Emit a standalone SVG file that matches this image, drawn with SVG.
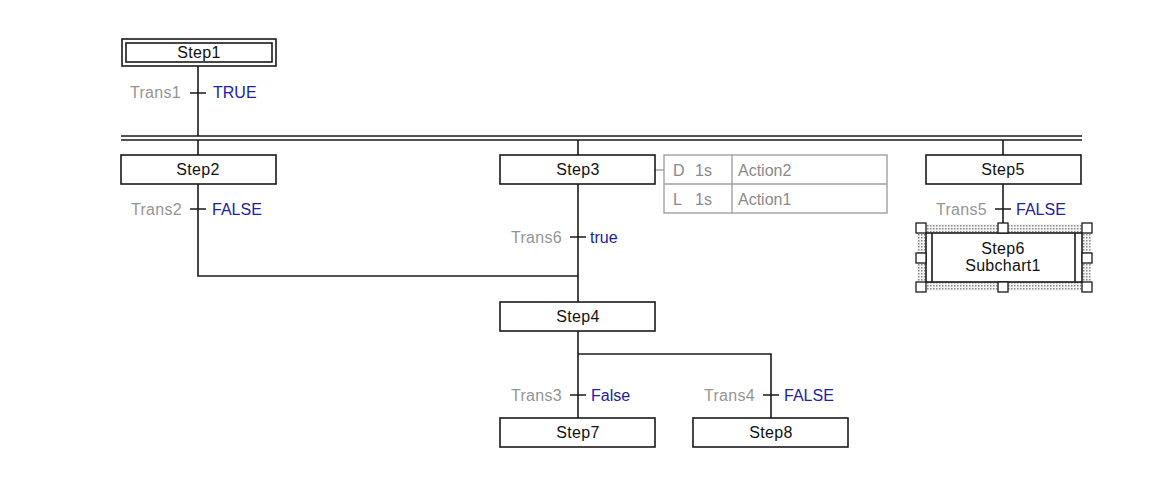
<svg xmlns="http://www.w3.org/2000/svg" width="1155" height="485" viewBox="0 0 1155 485">
<style>
text{font-family:"Liberation Sans",Arial,sans-serif;font-size:16px}
.step{fill:#fff;stroke:#1a1a1a;stroke-width:1.6}
.st{fill:#111;text-anchor:middle;letter-spacing:0.3px}
.tn{fill:#959595;text-anchor:end;letter-spacing:0.3px}
.tc{fill:#2020a8}
.ln{fill:none;stroke:#1a1a1a;stroke-width:1.6}
.act{fill:#fff;stroke:#a0a0a0;stroke-width:1.4}
.at{fill:#8a8a8a}
.h{fill:#fff;stroke:#1a1a1a;stroke-width:1.3}
</style>
<defs>
<pattern id="dots" width="3" height="3" patternUnits="userSpaceOnUse">
<rect width="3" height="3" fill="#f4f4f4"/>
<rect width="1.5" height="1.5" fill="#8a8a8a"/>
</pattern>
</defs>
<rect width="1155" height="485" fill="#fff"/>
<g id="connectors">
<path class="ln" d="M198 66V136"/>
<path class="ln" d="M121 136H1082M121 140H1082"/>
<path class="ln" d="M198 140V155M578 140V155M1003 140V155"/>
<path class="ln" d="M198 184V276H578"/>
<path class="ln" d="M578 184V302"/>
<path class="ln" d="M578 331V418"/>
<path class="ln" d="M578 354H771V418"/>
<path class="ln" d="M1003 184V223"/>
<path class="ln" d="M190 93H206M190 209H206M570 237H586M570 395H586M763 395H779M995 209H1011"/>
<path d="M655 170H664" fill="none" stroke="#a0a0a0" stroke-width="1.4"/>
</g>
<g id="step1">
<rect class="step" x="122" y="39" width="154" height="27"/>
<rect class="step" x="126" y="43" width="146" height="19"/>
<text class="st" x="199" y="58">Step1</text>
</g>
<g id="trans1"><text class="tn" x="181" y="98">Trans1</text><text class="tc" x="213" y="98">TRUE</text></g>
<g id="step2"><rect class="step" x="121" y="155" width="155" height="29"/><text class="st" x="198" y="175">Step2</text></g>
<g id="trans2"><text class="tn" x="182" y="215">Trans2</text><text class="tc" x="212" y="215">FALSE</text></g>
<g id="step3"><rect class="step" x="500" y="155" width="155" height="29"/><text class="st" x="578" y="175">Step3</text></g>
<g id="actions">
<rect class="act" x="664" y="155" width="223" height="58"/>
<path d="M664 184H887M732 155V213" fill="none" stroke="#a0a0a0" stroke-width="1.4"/>
<text class="at" x="673" y="176">D</text><text class="at" x="695" y="176">1s</text><text class="at" x="738" y="176">Action2</text>
<text class="at" x="673" y="205">L</text><text class="at" x="695" y="205">1s</text><text class="at" x="738" y="205">Action1</text>
</g>
<g id="trans6"><text class="tn" x="562" y="243">Trans6</text><text class="tc" x="590" y="243">true</text></g>
<g id="step4"><rect class="step" x="500" y="302" width="155" height="29"/><text class="st" x="578" y="322">Step4</text></g>
<g id="trans3"><text class="tn" x="562" y="401">Trans3</text><text class="tc" x="591" y="401">False</text></g>
<g id="trans4"><text class="tn" x="755" y="401">Trans4</text><text class="tc" x="784" y="401">FALSE</text></g>
<g id="step7"><rect class="step" x="500" y="418" width="155" height="29"/><text class="st" x="578" y="438">Step7</text></g>
<g id="step8"><rect class="step" x="693" y="418" width="155" height="29"/><text class="st" x="771" y="438">Step8</text></g>
<g id="step5"><rect class="step" x="926" y="155" width="155" height="29"/><text class="st" x="1003" y="175">Step5</text></g>
<g id="trans5"><text class="tn" x="987" y="215">Trans5</text><text class="tc" x="1016" y="215">FALSE</text></g>
<g id="step6">
<rect x="917" y="224" width="174" height="67" fill="url(#dots)"/>
<rect class="step" x="926" y="233" width="156" height="49"/>
<path class="ln" d="M932 233V282M1075 233V282"/>
<text class="st" x="1003" y="254">Step6</text>
<text class="st" x="1003" y="271">Subchart1</text>
<rect class="h" x="916" y="223" width="10" height="10"/>
<rect class="h" x="998" y="223" width="10" height="10"/>
<rect class="h" x="1082" y="223" width="10" height="10"/>
<rect class="h" x="916" y="253" width="10" height="10"/>
<rect class="h" x="1082" y="253" width="10" height="10"/>
<rect class="h" x="916" y="282" width="10" height="10"/>
<rect class="h" x="998" y="282" width="10" height="10"/>
<rect class="h" x="1082" y="282" width="10" height="10"/>
</g>
</svg>
